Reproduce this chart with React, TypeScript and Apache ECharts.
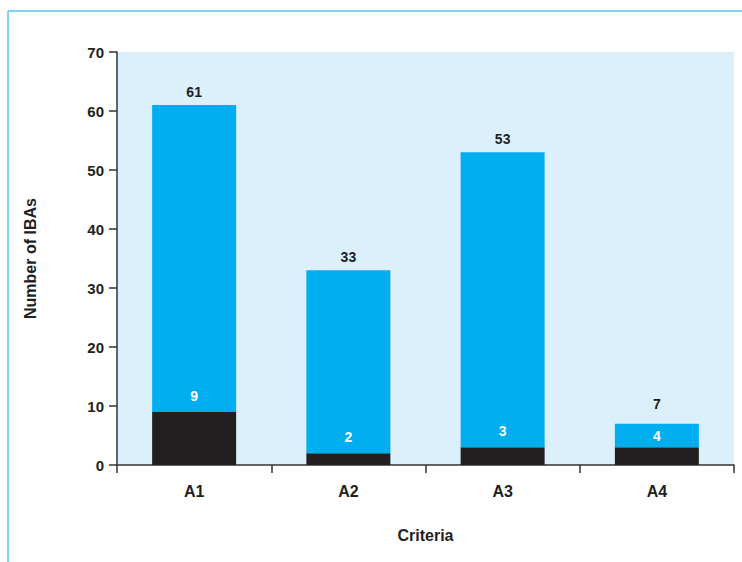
import React, { useEffect, useRef } from "react";
import * as echarts from "echarts";

// Stacked IBA counts per criterion
const categories = ["A1", "A2", "A3", "A4"];
const totals = [61, 33, 53, 7];
const lowerCounts = [9, 2, 3, 3];
const upperCounts = [52, 31, 50, 4];
const yTicks = [0, 10, 20, 30, 40, 50, 60, 70];

const FONT = "'Liberation Sans', Arial, Helvetica, sans-serif";
const INK = "#231f20";
const BLUE = "#00aeef";

export default function App() {
  const ref = useRef<HTMLDivElement>(null);

  useEffect(() => {
    if (!ref.current) return;
    const chart = echarts.init(ref.current, null, { renderer: "svg" });

    const whiteLabel = {
      color: "#ffffff",
      fontFamily: FONT,
      fontWeight: "bold" as const,
      fontSize: 14,
    };

    chart.setOption({
      animation: false,
      textStyle: { fontFamily: FONT },
      graphic: [
        {
          type: "line",
          shape: { x1: 8, y1: 11, x2: 742, y2: 11 },
          style: { stroke: "#80d2f2", lineWidth: 2 },
          silent: true,
        },
        {
          type: "line",
          shape: { x1: 8, y1: 11, x2: 8, y2: 562 },
          style: { stroke: "#80d2f2", lineWidth: 2 },
          silent: true,
        },
      ],
      grid: {
        left: 117,
        top: 52,
        right: 8,
        bottom: 97,
        show: true,
        backgroundColor: "#dbf0fb",
        borderWidth: 0,
      },
      xAxis: {
        type: "category",
        data: categories,
        name: "Criteria",
        nameLocation: "middle",
        nameGap: 62,
        nameTextStyle: { color: INK, fontWeight: "bold", fontSize: 16, fontFamily: FONT },
        axisLine: { lineStyle: { color: "#333333", width: 1.5 } },
        axisTick: { show: true, length: 8, lineStyle: { color: "#333333", width: 1.5 } },
        axisLabel: { color: INK, fontWeight: "bold", fontSize: 16, margin: 18, fontFamily: FONT },
      },
      yAxis: {
        type: "value",
        min: yTicks[0],
        max: yTicks[yTicks.length - 1],
        interval: 10,
        name: "Number of IBAs",
        nameLocation: "middle",
        nameGap: 79,
        nameTextStyle: { color: INK, fontWeight: "bold", fontSize: 16, fontFamily: FONT },
        axisLine: { show: true, lineStyle: { color: "#333333", width: 1.5 } },
        axisTick: { show: true, length: 8, lineStyle: { color: "#333333", width: 1.5 } },
        axisLabel: { color: INK, fontWeight: "bold", fontSize: 15, margin: 13, fontFamily: FONT },
        splitLine: { show: false },
      },
      series: [
        {
          type: "bar",
          stack: "iba",
          barWidth: 84,
          itemStyle: { color: INK },
          data: lowerCounts.map((v, i) => ({
            value: v,
            label:
              i === lowerCounts.length - 1
                ? { show: false }
                : { show: true, position: "top", distance: 9, ...whiteLabel },
          })),
        },
        {
          type: "bar",
          stack: "iba",
          barWidth: 84,
          itemStyle: { color: BLUE },
          data: upperCounts.map((v, i) => ({
            value: v,
            label:
              i === upperCounts.length - 1
                ? { show: true, position: "inside", ...whiteLabel }
                : { show: false },
          })),
        },
        {
          type: "bar",
          stack: "iba",
          barWidth: 84,
          itemStyle: { color: "transparent" },
          data: totals.map((_, i) => ({
            value: 0,
            label: { distance: i === totals.length - 1 ? 13 : 6 },
          })),
          label: {
            show: true,
            position: "top",
            color: INK,
            fontWeight: "bold",
            fontSize: 14,
            fontFamily: FONT,
            formatter: (p: any) => String(totals[p.dataIndex]),
          },
        },
      ],
    });

    return () => chart.dispose();
  }, []);

  return (
    <div
      ref={ref}
      style={{ position: "fixed", left: 0, top: 0, width: 742, height: 562, background: "#ffffff" }}
    />
  );
}
